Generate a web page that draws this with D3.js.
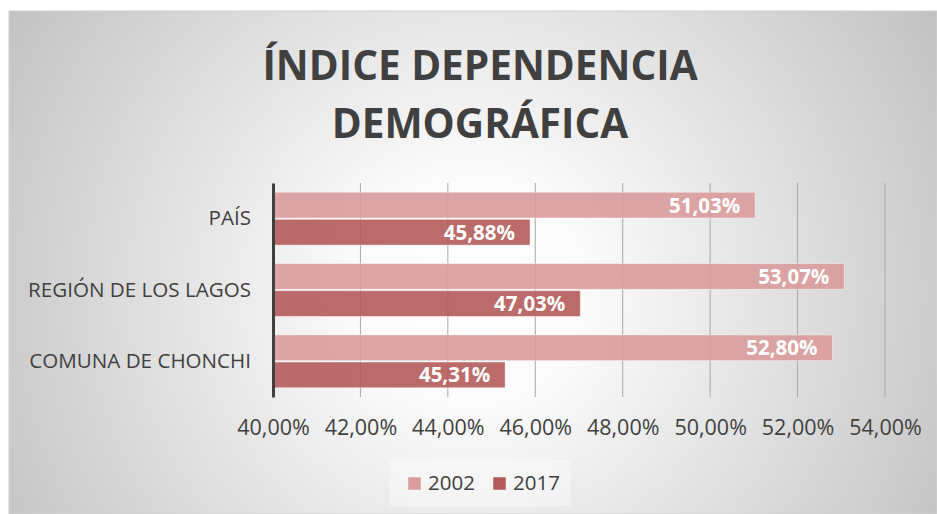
<!DOCTYPE html>
<html>
<head>
<meta charset="utf-8">
<script src="https://cdn.jsdelivr.net/npm/d3@7"></script>
<style>
  html, body { margin: 0; padding: 0; background: #fff; }
  svg { display: block; font-family: "Open Sans", sans-serif; }
</style>
</head>
<body>
<div id="chart"></div>
<script>
const categories = ["PAÍS", "REGIÓN DE LOS LAGOS", "COMUNA DE CHONCHI"];
const seriesNames = ["2002", "2017"];
const values2002 = [51.03, 53.07, 52.80];
const values2017 = [45.88, 47.03, 45.31];
const xTicks = [40, 42, 44, 46, 48, 50, 52, 54];
const titleLines = ["ÍNDICE DEPENDENCIA", "DEMOGRÁFICA"];

const W = 937, H = 514;
const colors = { "2002": "#d99b9c", "2017": "#b45b5a" };
const fmt = v => v.toFixed(2).replace(".", ",") + "%";

const rows = categories.map((c, i) => ({
  name: c,
  vals: [{ s: "2002", v: values2002[i] }, { s: "2017", v: values2017[i] }]
}));

const svg = d3.select("#chart").append("svg")
  .attr("width", W)
  .attr("height", H);

// background with radial gradient
const grad = svg.append("defs").append("radialGradient")
  .attr("id", "bg")
  .attr("gradientUnits", "userSpaceOnUse")
  .attr("cx", 470).attr("cy", 290).attr("r", 580);
grad.append("stop").attr("offset", 0).attr("stop-color", "#ffffff");
grad.append("stop").attr("offset", 0.2).attr("stop-color", "#fbfbfb");
grad.append("stop").attr("offset", 1).attr("stop-color", "#bdbdbd");

svg.append("rect")
  .attr("x", 9).attr("y", 11)
  .attr("width", W - 9).attr("height", H - 11)
  .attr("fill", "url(#bg)")
  .attr("stroke", "#d0d0d0");

// title
svg.append("g").selectAll("text")
  .data(titleLines)
  .enter().append("text")
  .attr("x", 480)
  .attr("y", (d, i) => 80 + i * 58)
  .attr("text-anchor", "middle")
  .attr("font-size", 40.5)
  .attr("font-weight", 700)
  .attr("fill", "#404040")
  .text(d => d);

const x = d3.scaleLinear().domain([40, 54]).range([273, 885]);
const y = d3.scaleBand().domain(categories).range([183, 397]);
const y1 = d3.scaleBand().domain(seriesNames)
  .range([0, y.bandwidth()])
  .paddingInner(0.05)
  .paddingOuter(0.34);

// gridlines
svg.append("g").selectAll("line")
  .data(xTicks.filter(t => t > 40))
  .enter().append("line")
  .attr("x1", d => x(d)).attr("x2", d => x(d))
  .attr("y1", 183).attr("y2", 397)
  .attr("stroke", "#a9a9a9")
  .attr("stroke-width", 1);

// bars
const groups = svg.append("g").selectAll("g")
  .data(rows)
  .enter().append("g")
  .attr("transform", d => `translate(0,${y(d.name)})`);

groups.selectAll("rect")
  .data(d => d.vals)
  .enter().append("rect")
  .attr("x", x(40))
  .attr("y", d => y1(d.s))
  .attr("width", d => x(d.v) - x(40))
  .attr("height", y1.bandwidth())
  .attr("fill", d => colors[d.s])
  .attr("fill-opacity", 0.9)
  .attr("stroke", "#ffffff")
  .attr("stroke-opacity", 0.45);

groups.selectAll("text")
  .data(d => d.vals)
  .enter().append("text")
  .attr("x", d => x(d.v) - 15)
  .attr("y", d => y1(d.s) + y1.bandwidth() / 2 + 7.5)
  .attr("text-anchor", "end")
  .attr("font-size", 20.5)
  .attr("font-weight", 700)
  .attr("fill", "#ffffff")
  .text(d => fmt(d.v));

// y axis
const yAxis = svg.append("g")
  .attr("transform", `translate(${x(40)},0)`)
  .call(d3.axisLeft(y).tickSize(0).tickPadding(22));
yAxis.select(".domain").attr("stroke", "#404040").attr("stroke-width", 3);
yAxis.selectAll("text")
  .attr("font-family", "Open Sans")
  .attr("font-size", 20.6)
  .attr("fill", "#404040");

// x axis labels
const xAxis = svg.append("g")
  .attr("transform", "translate(0,397)")
  .call(d3.axisBottom(x).tickValues(xTicks).tickSize(0).tickPadding(23).tickFormat(d => d.toFixed(2).replace(".", ",") + "%"));
xAxis.select(".domain").remove();
xAxis.selectAll("text")
  .attr("font-family", "Open Sans")
  .attr("font-size", 21.5)
  .attr("fill", "#404040");

// legend
const legend = svg.append("g");
legend.append("rect")
  .attr("x", 390).attr("y", 460)
  .attr("width", 180).attr("height", 46)
  .attr("fill", "#ffffff").attr("fill-opacity", 0.35);
const li = legend.selectAll("g")
  .data(seriesNames)
  .enter().append("g")
  .attr("transform", (d, i) => `translate(${408 + i * 85},0)`);
li.append("rect")
  .attr("x", 0).attr("y", 477)
  .attr("width", 13).attr("height", 13)
  .attr("fill", d => colors[d])
  .attr("stroke", "#ffffff").attr("stroke-opacity", 0.45);
li.append("text")
  .attr("x", 20).attr("y", 490)
  .attr("font-size", 20.5)
  .attr("fill", "#404040")
  .text(d => d);
</script>
</body>
</html>
